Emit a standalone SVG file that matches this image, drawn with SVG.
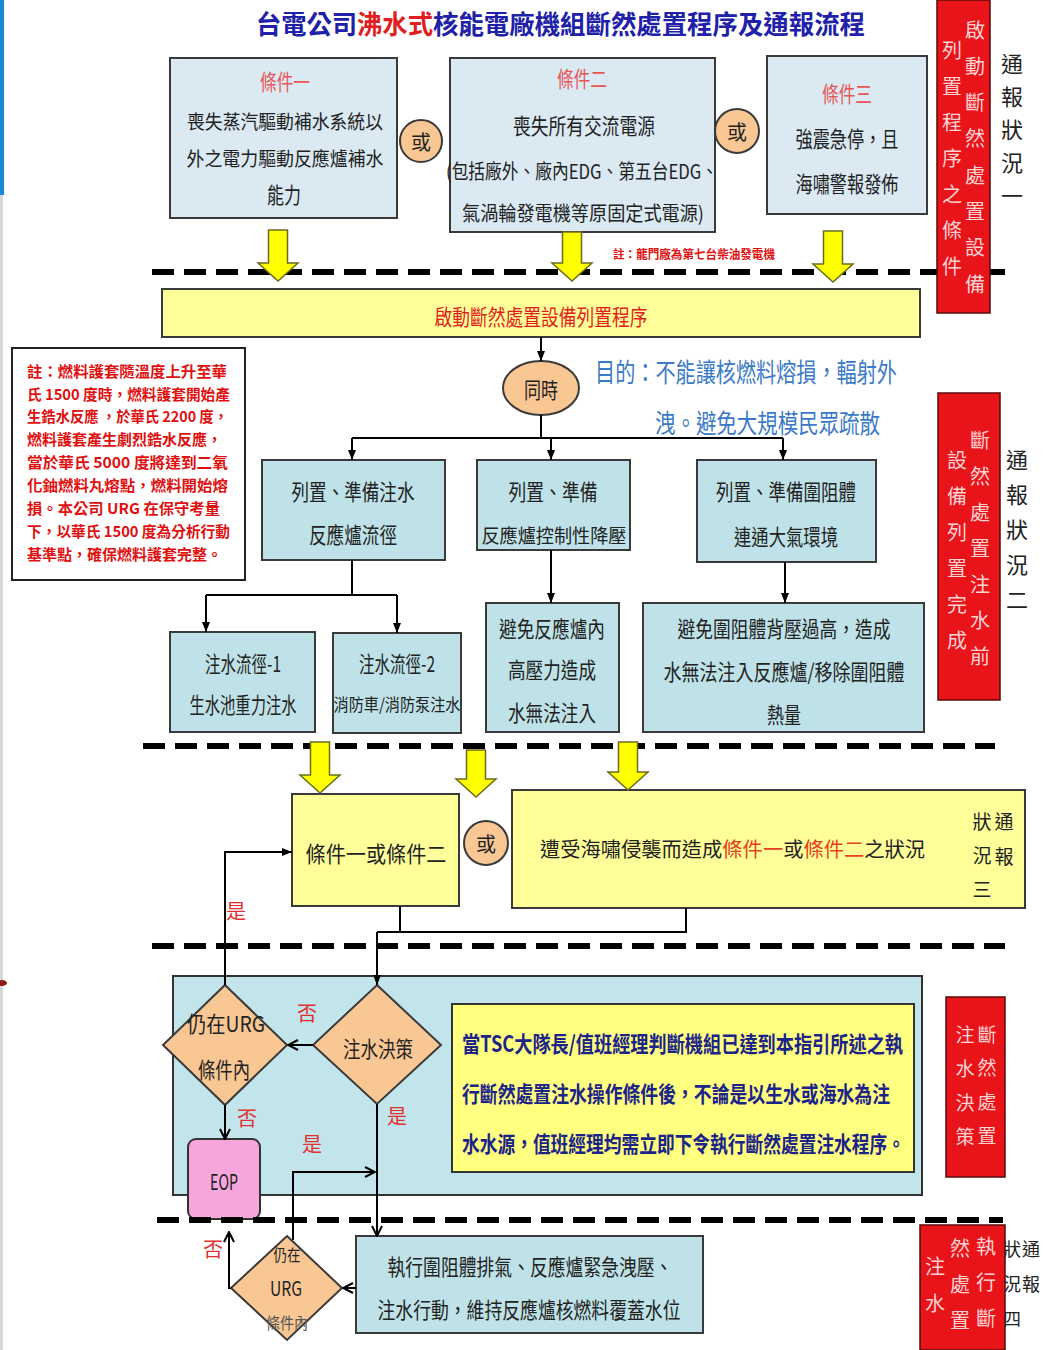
<svg xmlns="http://www.w3.org/2000/svg" width="1043" height="1350" viewBox="0 0 1043 1350">
<defs>
<style>
.f{font-family:"Noto Sans CJK TC","Noto Sans CJK SC",sans-serif;}
.c{text-anchor:middle;dominant-baseline:central;}
.s{text-anchor:start;dominant-baseline:central;}
.e{text-anchor:end;dominant-baseline:central;}
.v{writing-mode:vertical-rl;text-anchor:start;}
.b1{fill:#dae9f2;stroke:#3a3a3a;stroke-width:2;}
.b2{fill:#bfe2e8;stroke:#3a3a3a;stroke-width:2;}
.yel{fill:#ffff99;stroke:#3a3a3a;stroke-width:2;}
.pe{fill:#f9c794;stroke:#3a3a3a;stroke-width:2;}
.rb{fill:#e8141a;stroke:#5a0a0a;stroke-width:1.5;}
.dash{stroke:#000;stroke-width:6;stroke-dasharray:22 10;fill:none;}
.ln{stroke:#000;stroke-width:2;fill:none;}
.ya{fill:#ffff00;stroke:#6b6b20;stroke-width:1.5;}
.tx{fill:#222;font-size:22px;}
.lab{fill:#e85555;font-size:22px;}
.yn{fill:#e03030;font-size:20px;}
.vw{fill:#ffd2d2;font-size:20px;}
.vk{fill:#222;font-size:20px;}
.ttl{font-size:26px;font-weight:bold;}
</style>
<marker id="af" viewBox="0 0 10 10" refX="10" refY="5" markerWidth="10" markerHeight="10" markerUnits="userSpaceOnUse" orient="auto">
<path d="M0,1 L10,5 L0,9 Z" fill="#000"/>
</marker>
<marker id="ao" viewBox="0 0 12 12" refX="11" refY="6" markerWidth="12" markerHeight="12" markerUnits="userSpaceOnUse" orient="auto">
<path d="M1,1 L11,6 L1,11" fill="none" stroke="#000" stroke-width="2"/>
</marker>
</defs>

<rect x="0" y="0" width="1043" height="1350" fill="#ffffff"/>
<rect x="0" y="0" width="4" height="195" fill="#1e88d8"/>
<rect x="0" y="195" width="3" height="1155" fill="#d6d6d6"/>
<ellipse cx="2" cy="983" rx="5" ry="3" fill="#8b1a1a"/>

<g id="title">
<text class="f e ttl" x="357" y="22" fill="#2020a8" textLength="101" lengthAdjust="spacingAndGlyphs">台電公司</text>
<text class="f c ttl" x="395" y="22" fill="#e02020" textLength="76" lengthAdjust="spacingAndGlyphs">沸水式</text>
<text class="f s ttl" x="433" y="22" fill="#2020a8" textLength="432" lengthAdjust="spacingAndGlyphs">核能電廠機組斷然處置程序及通報流程</text>
</g>

<g id="separators">
<line class="dash" x1="152" y1="272" x2="1005" y2="272"/>
<line class="dash" x1="143" y1="746" x2="995" y2="746"/>
<line class="dash" x1="152" y1="946" x2="1005" y2="946"/>
</g>

<g id="cond1">
<rect class="b1" x="170" y="58" width="227" height="160"/>
<text class="f c lab" x="285" y="80" textLength="50" lengthAdjust="spacingAndGlyphs">條件一</text>
<text class="f c tx" x="285" y="120" style="font-size:19px" textLength="196" lengthAdjust="spacingAndGlyphs">喪失蒸汽驅動補水系統以</text>
<text class="f c tx" x="285" y="157" style="font-size:19px" textLength="197" lengthAdjust="spacingAndGlyphs">外之電力驅動反應爐補水</text>
<text class="f c tx" x="284" y="193" textLength="34" lengthAdjust="spacingAndGlyphs">能力</text>
</g>
<g id="or1">
<circle class="pe" cx="421" cy="141" r="21"/>
<text class="f c tx" x="421" y="141" style="font-size:20px">或</text>
</g>
<g id="cond2">
<rect class="b1" x="450" y="58" width="265" height="174"/>
<text class="f c lab" x="582" y="77" textLength="50" lengthAdjust="spacingAndGlyphs">條件二</text>
<text class="f c tx" x="584" y="124" textLength="142" lengthAdjust="spacingAndGlyphs">喪失所有交流電源</text>
<text class="f c tx" x="582" y="170" style="font-size:20px" textLength="272" lengthAdjust="spacingAndGlyphs">(包括廠外、廠內EDG、第五台EDG、</text>
<text class="f c tx" x="583" y="212" style="font-size:20px" textLength="242" lengthAdjust="spacingAndGlyphs">氣渦輪發電機等原固定式電源)</text>
</g>
<g id="or2">
<circle class="pe" cx="737" cy="131" r="22"/>
<text class="f c tx" x="737" y="131" style="font-size:20px">或</text>
</g>
<g id="cond3">
<rect class="b1" x="767" y="56" width="160" height="158"/>
<text class="f c lab" x="847" y="92" textLength="50" lengthAdjust="spacingAndGlyphs">條件三</text>
<text class="f c tx" x="847" y="137" textLength="103" lengthAdjust="spacingAndGlyphs">強震急停，且</text>
<text class="f c tx" x="847" y="182" textLength="103" lengthAdjust="spacingAndGlyphs">海嘯警報發佈</text>
</g>
<g id="note-longmen">
<text class="f s" x="613" y="253" font-size="12" font-weight="bold" fill="#e01010" textLength="162" lengthAdjust="spacingAndGlyphs">註：龍門廠為第七台柴油發電機</text>
</g>

<g id="label-status1">
<rect class="rb" x="937" y="0" width="53" height="313"/>
<text class="f v vw" x="975" y="20" letter-spacing="16.3">啟動斷然處置設備</text>
<text class="f v vw" x="952" y="40" letter-spacing="16">列置程序之條件</text>
<text class="f v vk" x="1012" y="53" style="font-size:22px" letter-spacing="11">通報狀況一</text>
</g>

<g id="start-bar">
<rect x="162" y="289" width="758" height="48" fill="#ffff99" stroke="#3a3a3a" stroke-width="2"/>
<text class="f c" x="541" y="315" font-size="22" fill="#e01e1e" textLength="213" lengthAdjust="spacingAndGlyphs">啟動斷然處置設備列置程序</text>
</g>

<g id="note-fuel">
<rect x="12" y="348" width="233" height="232" fill="#ffffff" stroke="#222" stroke-width="2"/>
<g class="f s" font-size="15" font-weight="bold" fill="#e01010">
<text x="27" y="370" textLength="200" lengthAdjust="spacingAndGlyphs">註：燃料護套隨溫度上升至華</text>
<text x="27" y="393" textLength="203" lengthAdjust="spacingAndGlyphs">氏 1500 度時，燃料護套開始產</text>
<text x="27" y="415" textLength="201" lengthAdjust="spacingAndGlyphs">生鋯水反應 ，於華氏 2200 度，</text>
<text x="27" y="438" textLength="195" lengthAdjust="spacingAndGlyphs">燃料護套產生劇烈鋯水反應，</text>
<text x="27" y="461" textLength="201" lengthAdjust="spacingAndGlyphs">當於華氏 5000 度將達到二氧</text>
<text x="27" y="484" textLength="201" lengthAdjust="spacingAndGlyphs">化鈾燃料丸熔點，燃料開始熔</text>
<text x="27" y="507" textLength="193" lengthAdjust="spacingAndGlyphs">損。本公司 URG  在保守考量</text>
<text x="27" y="530" textLength="203" lengthAdjust="spacingAndGlyphs">下，以華氏 1500 度為分析行動</text>
<text x="27" y="553" textLength="195" lengthAdjust="spacingAndGlyphs">基準點，確保燃料護套完整。</text>
</g>
</g>

<g id="simul">
<ellipse class="pe" cx="541" cy="388" rx="38" ry="27"/>
<text class="f c tx" x="541" y="388" textLength="34" lengthAdjust="spacingAndGlyphs">同時</text>
</g>
<g id="purpose">
<text class="f s" x="595" y="370" font-size="26" fill="#3a7ac8" textLength="302" lengthAdjust="spacingAndGlyphs">目的：不能讓核燃料熔損，輻射外</text>
<text class="f s" x="655" y="421" font-size="26" fill="#3a7ac8" textLength="225" lengthAdjust="spacingAndGlyphs">洩。避免大規模民眾疏散</text>
</g>

<g id="boxA">
<rect class="b2" x="262" y="460" width="183" height="100"/>
<text class="f c tx" x="353" y="490" textLength="123" lengthAdjust="spacingAndGlyphs">列置、準備注水</text>
<text class="f c tx" x="353" y="533" textLength="88" lengthAdjust="spacingAndGlyphs">反應爐流徑</text>
</g>
<g id="boxB">
<rect class="b2" x="477" y="460" width="153" height="90"/>
<text class="f c tx" x="553" y="490" textLength="89" lengthAdjust="spacingAndGlyphs">列置、準備</text>
<text class="f c tx" x="554" y="534" style="font-size:19px" textLength="145" lengthAdjust="spacingAndGlyphs">反應爐控制性降壓</text>
</g>
<g id="boxC">
<rect class="b2" x="697" y="460" width="179" height="102"/>
<text class="f c tx" x="786" y="490" textLength="140" lengthAdjust="spacingAndGlyphs">列置、準備圍阻體</text>
<text class="f c tx" x="786" y="535" textLength="104" lengthAdjust="spacingAndGlyphs">連通大氣環境</text>
</g>
<g id="boxA1">
<rect class="b2" x="170" y="632" width="145" height="100"/>
<text class="f c tx" x="243" y="662" textLength="76" lengthAdjust="spacingAndGlyphs">注水流徑-1</text>
<text class="f c tx" x="243" y="703" textLength="107" lengthAdjust="spacingAndGlyphs">生水池重力注水</text>
</g>
<g id="boxA2">
<rect class="b2" x="333" y="633" width="128" height="100"/>
<text class="f c tx" x="397" y="662" textLength="76" lengthAdjust="spacingAndGlyphs">注水流徑-2</text>
<text class="f c tx" x="397" y="703" style="font-size:17px" textLength="127" lengthAdjust="spacingAndGlyphs">消防車/消防泵注水</text>
</g>
<g id="boxB1">
<rect class="b2" x="486" y="603" width="133" height="129"/>
<text class="f c tx" x="552" y="627" textLength="106" lengthAdjust="spacingAndGlyphs">避免反應爐內</text>
<text class="f c tx" x="552" y="668" textLength="88" lengthAdjust="spacingAndGlyphs">高壓力造成</text>
<text class="f c tx" x="552" y="711" textLength="88" lengthAdjust="spacingAndGlyphs">水無法注入</text>
</g>
<g id="boxC1">
<rect class="b2" x="643" y="603" width="281" height="129"/>
<text class="f c tx" x="784" y="627" textLength="213" lengthAdjust="spacingAndGlyphs">避免圍阻體背壓過高，造成</text>
<text class="f c tx" x="784" y="670" textLength="241" lengthAdjust="spacingAndGlyphs">水無法注入反應爐/移除圍阻體</text>
<text class="f c tx" x="784" y="713" textLength="34" lengthAdjust="spacingAndGlyphs">熱量</text>
</g>

<g id="label-status2">
<rect class="rb" x="938" y="393" width="62" height="307"/>
<text class="f v vw" x="980" y="430" letter-spacing="16">斷然處置注水前</text>
<text class="f v vw" x="957" y="450" letter-spacing="16">設備列置完成</text>
<text class="f v vk" x="1017" y="449" style="font-size:22px" letter-spacing="13">通報狀況二</text>
</g>

<g id="cond12">
<rect class="yel" x="292" y="794" width="167" height="112"/>
<text class="f c tx" x="376" y="852" textLength="141" lengthAdjust="spacingAndGlyphs">條件一或條件二</text>
</g>
<g id="or3">
<circle class="pe" cx="486" cy="843" r="22"/>
<text class="f c tx" x="486" y="843" style="font-size:20px">或</text>
</g>
<g id="tsunami">
<rect class="yel" x="512" y="790" width="513" height="118"/>
<text class="f s tx" x="540" y="848" style="font-size:20px" textLength="385" lengthAdjust="spacingAndGlyphs">遭受海嘯侵襲而造成<tspan fill="#e8401e">條件一</tspan>或<tspan fill="#e8401e">條件二</tspan>之狀況</text>
<text class="f v vk" x="1004" y="812" style="font-size:19px" letter-spacing="16">通報</text>
<text class="f v vk" x="982" y="812" style="font-size:19px" letter-spacing="15">狀況三</text>
</g>

<g id="decision-panel">
<rect x="173" y="976" width="749" height="219" fill="#c2e5eb" stroke="#333" stroke-width="2"/>
</g>
<g id="tsc-note">
<rect x="452" y="1004" width="462" height="168" fill="#ffff80" stroke="#333" stroke-width="2"/>
<g class="f s" font-size="22" font-weight="bold" fill="#1c2488">
<text x="462" y="1042" textLength="441" lengthAdjust="spacingAndGlyphs">當TSC大隊長/值班經理判斷機組已達到本指引所述之執</text>
<text x="462" y="1092" textLength="428" lengthAdjust="spacingAndGlyphs">行斷然處置注水操作條件後，不論是以生水或海水為注</text>
<text x="462" y="1142" textLength="443" lengthAdjust="spacingAndGlyphs">水水源，值班經理均需立即下令執行斷然處置注水程序。</text>
</g>
</g>

<g id="urg1">
<polygon class="pe" points="225,985 287,1045 225,1105 163,1045"/>
<text class="f c tx" x="226" y="1022" textLength="78" lengthAdjust="spacingAndGlyphs">仍在URG</text>
<text class="f c tx" x="224" y="1068" textLength="52" lengthAdjust="spacingAndGlyphs">條件內</text>
</g>
<g id="decide">
<polygon class="pe" points="377,985 441,1045 377,1104 313,1045"/>
<text class="f c tx" x="378" y="1047" textLength="70" lengthAdjust="spacingAndGlyphs">注水決策</text>
</g>
<g id="eop">
<rect x="188" y="1139" width="72" height="80" rx="8" fill="#f7a6dc" stroke="#333" stroke-width="2"/>
<text class="f c tx" x="224" y="1180" textLength="28" lengthAdjust="spacingAndGlyphs">EOP</text>
</g>

<g id="label-status3">
<rect class="rb" x="946" y="997" width="59" height="180"/>
<text class="f v vw" x="987" y="1025" style="font-size:19px" letter-spacing="14.7">斷然處置</text>
<text class="f v vw" x="965" y="1025" style="font-size:19px" letter-spacing="15">注水決策</text>
</g>

<g id="separator4">
<line class="dash" x1="157" y1="1220" x2="1003" y2="1220"/>
</g>

<g id="execute">
<rect class="b2" x="356" y="1236" width="347" height="97"/>
<text class="f c tx" x="530" y="1265" textLength="285" lengthAdjust="spacingAndGlyphs">執行圍阻體排氣、反應爐緊急洩壓、</text>
<text class="f c tx" x="529" y="1308" textLength="303" lengthAdjust="spacingAndGlyphs">注水行動，維持反應爐核燃料覆蓋水位</text>
</g>
<g id="urg2">
<polygon class="pe" points="287,1236 342,1288 287,1340 231,1288"/>
<text class="f c tx" x="287" y="1254" style="font-size:16px" textLength="27" lengthAdjust="spacingAndGlyphs">仍在</text>
<text class="f c tx" x="286" y="1287" style="font-size:20px" textLength="32" lengthAdjust="spacingAndGlyphs">URG</text>
<text class="f c" x="287" y="1322" font-size="16" fill="#555" textLength="42" lengthAdjust="spacingAndGlyphs">條件內</text>
</g>

<g id="label-status4">
<rect class="rb" x="920" y="1225" width="85" height="125"/>
<text class="f v vw" x="986" y="1236" letter-spacing="16">執行斷</text>
<text class="f v vw" x="960" y="1238" letter-spacing="16">然處置</text>
<text class="f v vw" x="935" y="1256" letter-spacing="17">注水</text>
<text class="f v vk" x="1012" y="1240" style="font-size:18px" letter-spacing="17">狀況四</text>
<text class="f v vk" x="1031" y="1240" style="font-size:18px" letter-spacing="17">通報</text>
</g>

<g id="yellow-arrows">
<path class="ya" d="M268.5,230 H287.5 V263 H298 L278,281 L258,263 H268.5 Z"/>
<path class="ya" d="M562.5,232 H581.5 V263 H592 L572,281 L552,263 H562.5 Z"/>
<path class="ya" d="M823.5,231 H842.5 V264 H853 L833,282 L813,264 H823.5 Z"/>
<path class="ya" d="M310.5,742 H329.5 V775 H340 L320,793 L300,775 H310.5 Z"/>
<path class="ya" d="M466.5,750 H485.5 V779 H496 L476,797 L456,779 H466.5 Z"/>
<path class="ya" d="M618.5,742 H637.5 V772 H648 L628,790 L608,772 H618.5 Z"/>
</g>

<g id="connectors">
<line class="ln" x1="541" y1="337" x2="541" y2="361" marker-end="url(#af)"/>
<polyline class="ln" points="541,415 541,438"/>
<line class="ln" x1="352" y1="438" x2="783" y2="438"/>
<line class="ln" x1="352" y1="438" x2="352" y2="460" marker-end="url(#af)"/>
<line class="ln" x1="551" y1="438" x2="551" y2="460" marker-end="url(#af)"/>
<line class="ln" x1="783" y1="438" x2="783" y2="460" marker-end="url(#af)"/>
<line class="ln" x1="352" y1="560" x2="352" y2="595"/>
<line class="ln" x1="206" y1="595" x2="397" y2="595"/>
<line class="ln" x1="206" y1="595" x2="206" y2="632" marker-end="url(#af)"/>
<line class="ln" x1="397" y1="595" x2="397" y2="633" marker-end="url(#af)"/>
<line class="ln" x1="551" y1="550" x2="551" y2="603" marker-end="url(#af)"/>
<line class="ln" x1="785" y1="562" x2="785" y2="603" marker-end="url(#af)"/>
<polyline class="ln" points="400,906 400,932"/>
<polyline class="ln" points="377,932 686,932 686,908"/>
<line class="ln" x1="377" y1="932" x2="377" y2="985" marker-end="url(#af)"/>
<polyline class="ln" points="225,985 225,852 292,852" marker-end="url(#af)"/>
<line class="ln" x1="313" y1="1045" x2="288" y2="1045" marker-end="url(#ao)"/>
<line class="ln" x1="225" y1="1105" x2="225" y2="1139" marker-end="url(#ao)"/>
<line class="ln" x1="377" y1="1104" x2="377" y2="1236" marker-end="url(#ao)"/>
<polyline class="ln" points="293,1240 293,1172 375,1172" marker-end="url(#ao)"/>
<line class="ln" x1="356" y1="1288" x2="343" y2="1288" marker-end="url(#ao)"/>
<polyline class="ln" points="231,1288 229,1288 229,1232" marker-end="url(#ao)"/>
</g>

<g id="branch-labels">
<text class="f c yn" x="236" y="910">是</text>
<text class="f c yn" x="307" y="1012">否</text>
<text class="f c yn" x="247" y="1117">否</text>
<text class="f c yn" x="312" y="1143">是</text>
<text class="f c yn" x="397" y="1115">是</text>
<text class="f c yn" x="213" y="1248">否</text>
</g>
</svg>
